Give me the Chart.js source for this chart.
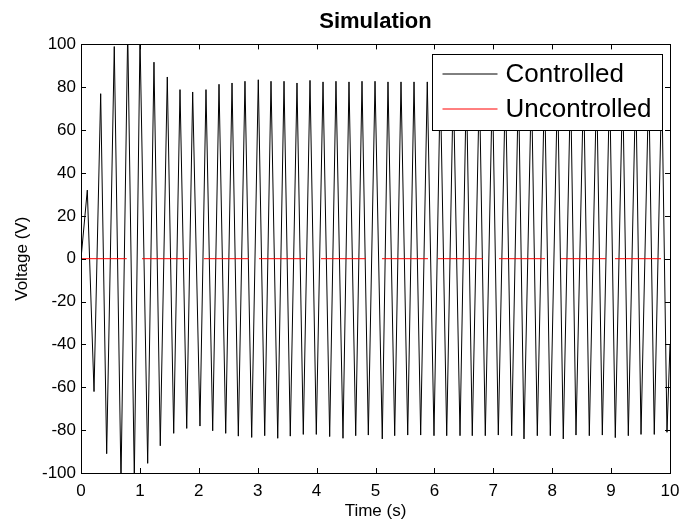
<!DOCTYPE html>
<html>
<head>
<meta charset="utf-8">
<script src="https://cdn.jsdelivr.net/npm/chart.js@4.4.1/dist/chart.umd.min.js"></script>
<style>
  body { margin: 0; background: #fff; }
  canvas { display: block; }
</style>
</head>
<body>
<canvas id="grafico" width="680" height="524"></canvas>
<script>
// valores
const peakTimes = [0.107, 0.334, 0.565, 0.793, 1.002, 1.239, 1.465, 1.681, 1.896, 2.122,
  2.343, 2.564, 2.784, 3.010, 3.226, 3.447, 3.667, 3.888, 4.109, 4.329,
  4.550, 4.771, 4.992, 5.212, 5.433, 5.654, 5.879, 6.100, 6.321, 6.543,
  6.764, 6.985, 7.206, 7.427, 7.648, 7.870, 8.091, 8.312, 8.533, 8.754,
  8.975, 9.196, 9.418, 9.639, 9.860];
const peakVolts = [32, 77, 99, 106, 103, 91.7, 84.8, 78.9, 77.8, 78.9,
  81.4, 82, 82.8, 83.5, 82.8, 82.8, 82, 83.2, 82.5, 82.8,
  82.5, 82.8, 82.8, 82.5, 82.5, 82.5, 82.5, 82.6, 82.4, 82.7,
  82.5, 82.6, 82.4, 82.7, 82.5, 82.6, 82.5, 82.4, 82.7, 82.5,
  82.6, 82.5, 82.7, 82.4, 82.6];
const troughTimes = [0.221, 0.436, 0.679, 0.905, 1.132, 1.346, 1.574, 1.795, 2.020, 2.236,
  2.457, 2.671, 2.898, 3.119, 3.340, 3.553, 3.774, 3.995, 4.222, 4.448,
  4.664, 4.878, 5.115, 5.326, 5.547, 5.767, 5.993, 6.209, 6.435, 6.643,
  6.864, 7.085, 7.312, 7.521, 7.747, 7.968, 8.188, 8.404, 8.630, 8.851,
  9.071, 9.292, 9.508, 9.733, 9.949];
const troughVolts = [-62, -91, -104, -102, -95.5, -87.3, -81.5, -79.2, -78.1, -80.3,
  -81.5, -82.8, -83.4, -82.6, -83.8, -82.8, -82, -82, -83, -83.8,
  -82.6, -82.3, -84.1, -82.6, -82.3, -82.3, -82.6, -82.6, -82.6, -82.6,
  -82.6, -82.3, -82.6, -84.1, -82.6, -82.6, -84.1, -82.3, -82.6, -82.3,
  -83.5, -82.6, -82, -82, -81];
const edgeTimes = [0, 10];
const edgeVolts = [0, -40];

// trechos da curva vermelha (nível constante)
const uncontrolledLevel = 0;
const redStarts = [0, 1.036, 2.088, 3.022, 4.075, 5.110, 6.061, 7.097, 8.149, 9.066];
const redEnds = [0.776, 1.817, 2.852, 3.803, 4.839, 5.891, 6.825, 7.878, 8.913, 9.847];

const xTicks = [0, 1, 2, 3, 4, 5, 6, 7, 8, 9, 10];
const yTicks = [-100, -80, -60, -40, -20, 0, 20, 40, 60, 80, 100];

const FONTE = "'Liberation Sans', Arial, sans-serif";
const COR_CONTROLADO = '#000000';
const COR_SEM_CONTROLE = '#ff0000';

/* ================= SÉRIES ================= */
const controlled = [];
edgeTimes.forEach((t, i) => controlled.push({ x: t, y: edgeVolts[i] }));
peakTimes.forEach((t, i) => controlled.push({ x: t, y: peakVolts[i] }));
troughTimes.forEach((t, i) => controlled.push({ x: t, y: troughVolts[i] }));
controlled.sort((a, b) => a.x - b.x);

const uncontrolled = [];
for (let i = 0; i < redStarts.length; i++) {
  uncontrolled.push({ x: redStarts[i], y: uncontrolledLevel });
  uncontrolled.push({ x: redEnds[i], y: uncontrolledLevel });
  uncontrolled.push({ x: redEnds[i], y: null });
}

/* ================= PLUGINS ================= */
// caixa e marcas para dentro, estilo MATLAB
const caixa = {
  id: 'caixa',
  afterDatasetsDraw(chart) {
    const { ctx, chartArea: a, scales: { x, y } } = chart;
    ctx.save();
    ctx.strokeStyle = '#000';
    ctx.lineWidth = 1;
    ctx.beginPath();
    x.ticks.forEach(t => {
      const px = Math.round(x.getPixelForValue(t.value)) + 0.5;
      ctx.moveTo(px, a.bottom); ctx.lineTo(px, a.bottom - 5);
      ctx.moveTo(px, a.top); ctx.lineTo(px, a.top + 5);
    });
    y.ticks.forEach(t => {
      const py = Math.round(y.getPixelForValue(t.value)) + 0.5;
      ctx.moveTo(a.left, py); ctx.lineTo(a.left + 5, py);
      ctx.moveTo(a.right, py); ctx.lineTo(a.right - 5, py);
    });
    ctx.stroke();
    ctx.strokeRect(Math.round(a.left) + 0.5, Math.round(a.top) + 0.5,
      Math.round(a.right - a.left), Math.round(a.bottom - a.top));
    ctx.restore();
  }
};

// legenda dentro do gráfico
const legenda = {
  id: 'legenda',
  afterDraw(chart) {
    const { ctx, chartArea: a } = chart;
    const w = 230, h = 76;
    const left = Math.round(a.right - 8 - w) + 0.5;
    const top = Math.round(a.top + 10) + 0.5;
    const itens = [
      { label: 'Controlled', cor: COR_CONTROLADO },
      { label: 'Uncontrolled', cor: COR_SEM_CONTROLE }
    ];
    ctx.save();
    ctx.fillStyle = '#fff';
    ctx.fillRect(left, top, w, h);
    ctx.strokeStyle = '#000';
    ctx.lineWidth = 1;
    ctx.strokeRect(left, top, w, h);
    ctx.font = '26px ' + FONTE;
    ctx.textBaseline = 'middle';
    itens.forEach((it, i) => {
      const yy = Math.round(top + 19 + i * 35);
      ctx.strokeStyle = it.cor;
      ctx.lineWidth = 1;
      ctx.beginPath();
      ctx.moveTo(left + 10, yy);
      ctx.lineTo(left + 65, yy);
      ctx.stroke();
      ctx.fillStyle = '#000';
      ctx.fillText(it.label, left + 73, yy + 1);
    });
    ctx.restore();
  }
};

/* ================= GRÁFICO ================= */
const ctx = document.getElementById('grafico');

new Chart(ctx, {
  type: 'line',
  data: {
    datasets: [{
      label: 'Uncontrolled',
      data: uncontrolled,
      borderColor: COR_SEM_CONTROLE,
      borderWidth: 1,
      pointRadius: 0,
      tension: 0,
      spanGaps: false,
      order: 0
    }, {
      label: 'Controlled',
      data: controlled,
      borderColor: COR_CONTROLADO,
      borderWidth: 1,
      pointRadius: 0,
      tension: 0,
      order: 1
    }]
  },
  options: {
    responsive: false,
    animation: false,
    layout: { padding: { top: 0, right: 10, bottom: 0, left: 0 } },
    plugins: {
      legend: { display: false },
      tooltip: { enabled: false },
      title: {
        display: true,
        fullSize: false,
        text: 'Simulation',
        color: '#000',
        font: { family: FONTE, size: 22, weight: 'bold' },
        padding: { top: 9, bottom: 9 }
      }
    },
    scales: {
      x: {
        type: 'linear',
        min: 0,
        max: 10,
        afterBuildTicks: s => { s.ticks = xTicks.map(v => ({ value: v })); },
        afterFit: s => { s.height = 51; s.paddingLeft = 0; s.paddingRight = 0; },
        grid: { display: false, drawTicks: false },
        border: { display: false },
        ticks: { color: '#000', padding: 8, maxRotation: 0, font: { family: FONTE, size: 17 } },
        title: {
          display: true,
          text: 'Time (s)',
          color: '#000',
          font: { family: FONTE, size: 17 },
          padding: { top: 0, bottom: 2 }
        }
      },
      y: {
        type: 'linear',
        min: -100,
        max: 100,
        afterBuildTicks: s => { s.ticks = yTicks.map(v => ({ value: v })); },
        afterFit: s => { s.width = 81; },
        grid: { display: false, drawTicks: false },
        border: { display: false },
        ticks: { color: '#000', padding: 5, font: { family: FONTE, size: 17 } },
        title: {
          display: true,
          text: 'Voltage (V)',
          color: '#000',
          font: { family: FONTE, size: 17 },
          padding: { top: 12, bottom: 0 }
        }
      }
    }
  },
  plugins: [caixa, legenda]
});
</script>
</body>
</html>
